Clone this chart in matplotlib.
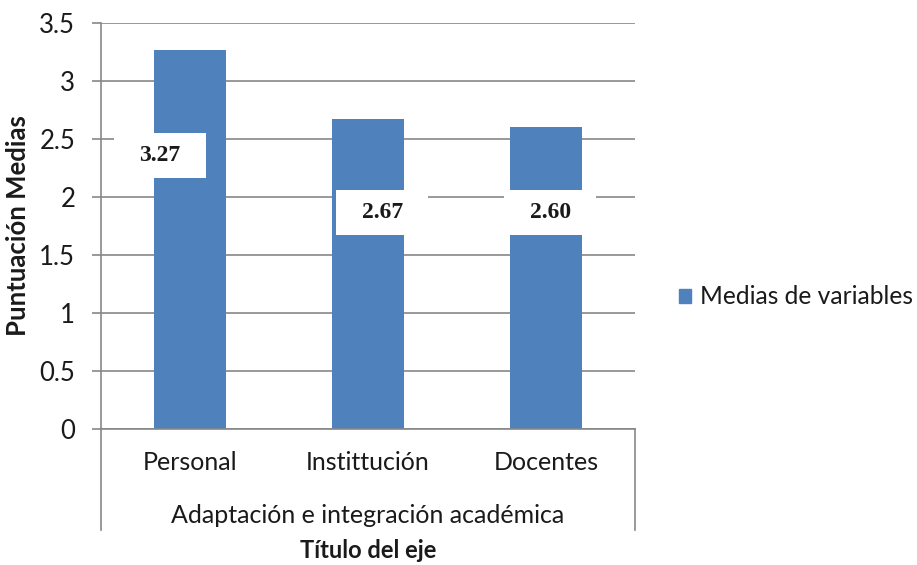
import numpy as np
import matplotlib
matplotlib.use("Agg")
import matplotlib.pyplot as plt
from matplotlib.patches import Patch
from matplotlib.lines import Line2D
from matplotlib.path import Path
from matplotlib import transforms

categories = ["Personal", "Instittución", "Docentes"]
values = [3.27, 2.67, 2.60]
value_labels = ["3.27", "2.67", "2.60"]
group_label = "Adaptación e integración académica"
series_name = "Medias de variables"
y_ticks = [0, 0.5, 1, 1.5, 2, 2.5, 3, 3.5]
y_tick_labels = ["0", "0.5", "1", "1.5", "2", "2.5", "3", "3.5"]

# label box placement (offset in category units, y position in data units)
label_dx = [-0.171, 0.08, 0.025]
label_y = [2.36, 1.87, 1.87]

BAR = "#4F81BD"
GRID = "#878787"
TXT = "#1a1a1a"
plt.rcParams['font.family'] = ['Lato', 'DejaVu Sans']

BOX_W, BOX_H = 92, 45  # label box size in pixels


def fixed_box(x0, y0, width, height, mutation_size):
    cx, cy = x0 + width / 2, y0 + height / 2
    a, b = cx - BOX_W / 2, cy - BOX_H / 2
    c, d = cx + BOX_W / 2, cy + BOX_H / 2
    return Path([(a, b), (c, b), (c, d), (a, d), (a, b)], closed=True)


W, H = 917, 565
fig = plt.figure(figsize=(W / 100, H / 100), dpi=100)
ax = fig.add_axes([101 / W, 1 - 429 / H, (635 - 101) / W, (429 - 23) / H])

x = np.arange(len(categories))
ax.bar(x, values, width=0.4, color=BAR, zorder=2)
ax.set_xlim(-0.5, len(categories) - 0.5)
ax.set_ylim(0, 3.5)

ax.set_yticks(y_ticks)
ax.set_yticklabels(y_tick_labels, fontsize=18.5, color=TXT)
ax.yaxis.grid(True, color=GRID, lw=1.2, zorder=0)
ax.set_axisbelow(True)
ax.tick_params(axis='y', length=6.5, width=1.2, color=GRID, pad=12)

ax.set_xticks(x)
ax.set_xticklabels(categories, fontsize=18, color=TXT)
ax.tick_params(axis='x', length=0, pad=16)

for s in ['top', 'right']:
    ax.spines[s].set_visible(False)
for s in ['left', 'bottom']:
    ax.spines[s].set_color(GRID)
    ax.spines[s].set_linewidth(1.2)

# multi-level category separators
for xa in (0, 1):
    ax.add_line(Line2D([xa, xa], [0, -0.249], transform=ax.transAxes,
                       color=GRID, lw=1.2, clip_on=False))

bt = transforms.blended_transform_factory(ax.transData, ax.transAxes)
ax.text(np.mean(x), -0.214, group_label, transform=bt, ha='center', va='center',
        fontsize=18, color=TXT)
ax.text(np.mean(x), -0.300, "Título del eje", transform=bt, ha='center', va='center',
        fontsize=17, fontweight='bold', color=TXT)

fig.text(18 / W, 1 - 226 / H, "Puntuación Medias", rotation=90, ha='center', va='center',
         fontsize=18.5, fontweight='bold', color=TXT)

for xi, dx, ly, lab in zip(x, label_dx, label_y, value_labels):
    ax.text(xi + dx, ly, lab, ha='center', va='center',
            fontsize=17, fontweight='bold', family='Liberation Serif', color=TXT,
            zorder=3,
            bbox=dict(boxstyle=fixed_box, fc='white', ec='none'))

fig.legend(handles=[Patch(color=BAR, label=series_name)], loc='center left',
           bbox_to_anchor=(657 / W, 1 - 297 / H), frameon=False, fontsize=17.7,
           handlelength=0.5, handleheight=0.5, handletextpad=0.35, labelcolor=TXT)

fig.savefig("out.png", dpi=100)
